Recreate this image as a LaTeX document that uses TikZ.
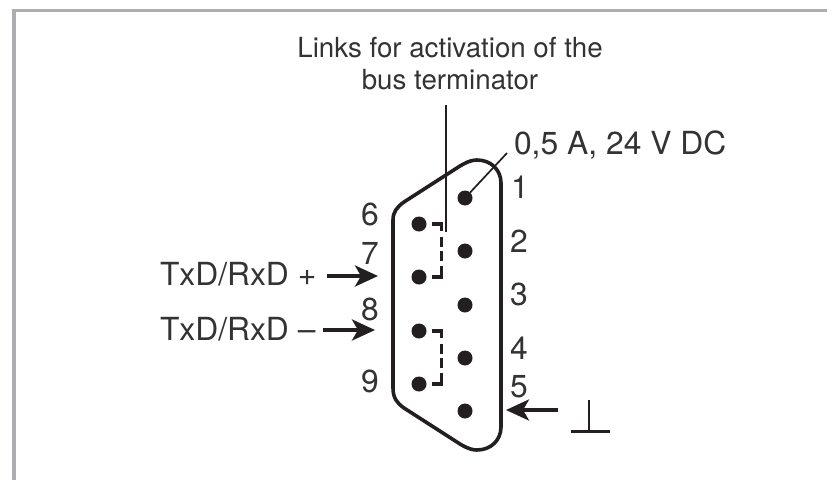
\documentclass[tikz,border=0pt]{standalone}
\usepackage{fontspec}
\setmainfont{TeX Gyre Heros}
\usetikzlibrary{arrows.meta,calc}
\definecolor{inkc}{HTML}{231F20}
\definecolor{textc}{HTML}{333333}
\definecolor{framec}{HTML}{AEAEB2}
\tikzset{
  lab/.style={anchor=base west,inner sep=0pt,outer sep=0pt,text=textc,font=\fontsize{31.8}{36}\selectfont},
  labc/.style={anchor=base,inner sep=0pt,outer sep=0pt,text=textc,font=\fontsize{27.7}{32}\selectfont},
  pinnode/.style={circle,fill=inkc,draw=none,minimum size=15pt,inner sep=0pt,outer sep=0pt},
  shell/.style={draw=inkc,line width=3.6pt},
  thinl/.style={draw=inkc,line width=1.7pt},
  link/.style={draw=inkc,line width=3.8pt,dash pattern=on 17pt off 6pt on 10pt off 4pt on 10pt off 5pt on 21pt off 2pt},
  feed/.style={draw=inkc,line width=3.6pt,-{Stealth[length=23pt,width=21pt,inset=6pt]}}
}
\begin{document}
\begin{tikzpicture}[x=1pt,y=-1pt]
\useasboundingbox (0,0) rectangle (827,480);
\fill[white] (0,0) rectangle (827,480);
\fill[framec] (11.5,8.5) rectangle (827,12);
\fill[framec] (11.5,8.5) rectangle (15.5,480);
% connector shell
\draw[shell] (393,220) .. controls (393,212) and (397,207) .. (404,202)
  -- (460,166) .. controls (469,160.5) and (474,160) .. (477,160)
  .. controls (491,160) and (501,170) .. (501,183)
  -- (501,427) .. controls (501,440) and (491,450) .. (477,450)
  .. controls (474,450) and (469,449.5) .. (460,444)
  -- (404,408) .. controls (397,403) and (393,398) .. (393,388) -- cycle;
% pins
\node[pinnode] (p1) at (465,198) {};
\node[pinnode] (p2) at (465,251) {};
\node[pinnode] (p3) at (465,305) {};
\node[pinnode] (p4) at (465,358) {};
\node[pinnode] (p5) at (465,411) {};
\node[pinnode] (p6) at (419,224) {};
\node[pinnode] (p7) at (419,277) {};
\node[pinnode] (p8) at (419,331) {};
\node[pinnode] (p9) at (419,384) {};
% links
\draw[link,shorten <=5pt,shorten >=5pt] (p6.east) -- ++(15,0) |- (p7.east);
\draw[link,shorten <=5pt,shorten >=5pt] (p8.east) -- ++(15,0) |- (p9.east);
% labels
\node[labc] (t1) at (450,57) {Links for activation of the};
\node[labc] (t2) at (450,89) {bus terminator};
\node[lab] (t3) at (514,154) {0,5 A, 24 V DC};
\node[lab] (n1) at (511,198) {1};
\node[lab] (n2) at (510,252) {2};
\node[lab] (n3) at (510,305) {3};
\node[lab] (n4) at (510,359) {4};
\node[lab] (n5) at (510,397) {5};
\node[lab] (n6) at (361,225) {6};
\node[lab] (n7) at (361,264) {7};
\node[lab] (n8) at (361,320) {8};
\node[lab] (n9) at (361,392) {9};
\node[lab] (tp) at (160,285) {TxD/RxD +};
\node[lab] (tm) at (160,340) {TxD/RxD –};
% leaders
\coordinate (linktop) at (446,105);
\coordinate (linkend) at (446,232);
\draw[thinl] (linktop) -- (linkend);
\coordinate (pwr) at (507,153);
\draw[thinl] (p1) -- (pwr);
% feeds
\coordinate (fa) at (327,276); \coordinate (fb) at (378,276);
\draw[feed] (fa) -- (fb);
\coordinate (fc) at (323,330); \coordinate (fd) at (375,330);
\draw[feed] (fc) -- (fd);
\coordinate (fe) at (558,410); \coordinate (ff) at (506,410);
\draw[feed] (fe) -- (ff);
% ground
\coordinate (g1) at (589,400); \coordinate (g2) at (589,431);
\coordinate (g3) at (570.5,431.5); \coordinate (g4) at (609.5,431.5);
\draw[draw=inkc,line width=2.2pt] (g1) -- (g2);
\draw[draw=inkc,line width=2.6pt] (g3) -- (g4);
\end{tikzpicture}
\end{document}
